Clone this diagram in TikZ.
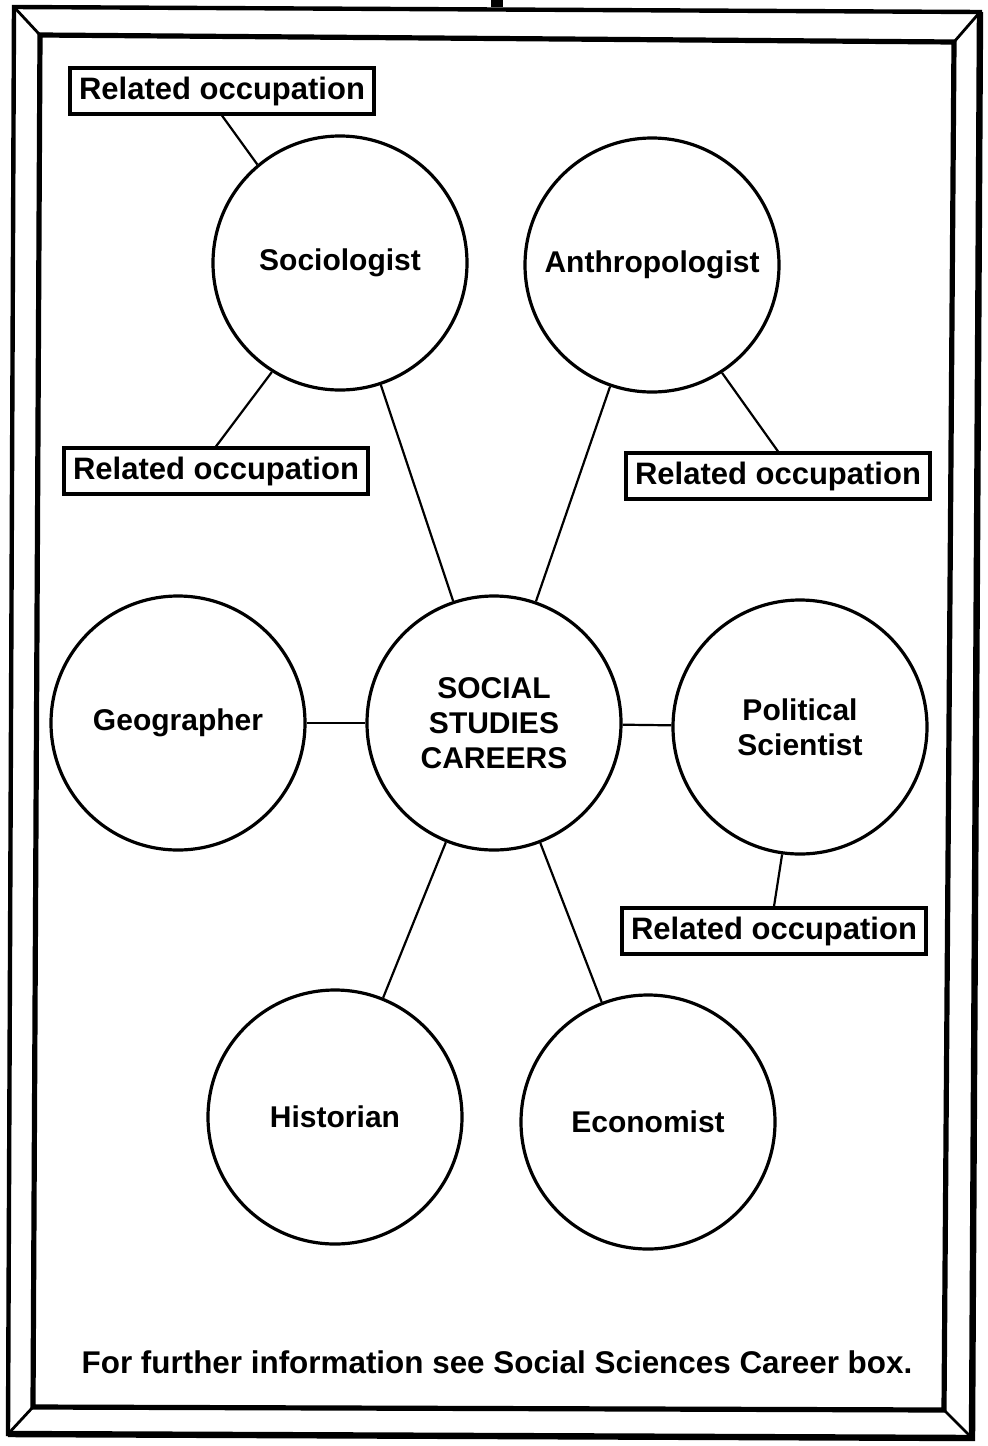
\documentclass[tikz,border=0pt]{standalone}
\usepackage{fontspec}
\setmainfont{Liberation Sans}
\begin{document}
\begin{tikzpicture}[x=0.5pt,y=-0.5pt,
  circ/.style={circle,draw,line width=1.6pt,minimum size=127pt,inner sep=0pt,align=center,
    font=\fontsize{15}{17.5}\selectfont\bfseries},
  occ/.style={draw,rectangle,line width=1.6pt,minimum width=152pt,minimum height=23pt,inner sep=0pt,
    font=\fontsize{15.5}{17.5}\selectfont\bfseries},
  conn/.style={line width=1.1pt},
  frameline/.style={line width=2.2pt,line join=miter}]
\useasboundingbox (0,0) rectangle (988,1446);
% frame
\coordinate (oTL) at (14,7);
\coordinate (oTR) at (980,12);
\coordinate (oBR) at (972,1438);
\coordinate (oBL) at (8,1434);
\coordinate (iTL) at (40,35);
\coordinate (iTR) at (954,42);
\coordinate (iBR) at (944,1410);
\coordinate (iBL) at (33,1407);
\draw[frameline] (oTL) -- (oTR) -- (oBR) -- (oBL) -- cycle;
\draw[line width=3.2pt] (oTR) -- (oBR) -- (oBL);
\draw[line width=2.6pt,line join=miter] (iTL) -- (iTR) -- (iBR) -- (iBL) -- cycle;
\draw[line width=1.4pt] (oTL) -- (iTL) (oTR) -- (iTR) (oBR) -- (iBR) (oBL) -- (iBL);
\node[fill=black,minimum width=6pt,minimum height=4pt,inner sep=0pt] (hanger) at (497,3) {};
% circles
\node[circ] (soc) at (340,263) {Sociologist};
\node[circ] (ant) at (652,265) {Anthropologist};
\node[circ] (geo) at (178,723) {Geographer};
\node[circ] (ssc) at (494,723) {SOCIAL\\STUDIES\\CAREERS};
\node[circ] (pol) at (800,727) {Political\\Scientist};
\node[circ] (his) at (335,1117) {Historian};
\node[circ] (eco) at (648,1122) {Economist};
% related occupation boxes
\node[occ] (r1) at (222,91) {Related occupation};
\node[occ] (r2) at (216,471) {Related occupation};
\node[occ] (r3) at (778,476) {Related occupation};
\node[occ] (r4) at (774,931) {Related occupation};
% connectors
\draw[conn] (soc.130) -- (r1.south);
\draw[conn] (soc.238) -- (r2.north);
\draw[conn] (ant.303) -- (r3.north);
\draw[conn] (pol.262) -- (r4.north);
\draw[conn] (soc) -- (ssc);
\draw[conn] (ant) -- (ssc);
\draw[conn] (geo) -- (ssc);
\draw[conn] (ssc) -- (pol);
\draw[conn] (ssc) -- (his);
\draw[conn] (ssc) -- (eco);
% footer
\node[font=\fontsize{15.7}{18}\selectfont\bfseries] (foot) at (497,1362) {For further information see Social Sciences Career box.};
\end{tikzpicture}
\end{document}
